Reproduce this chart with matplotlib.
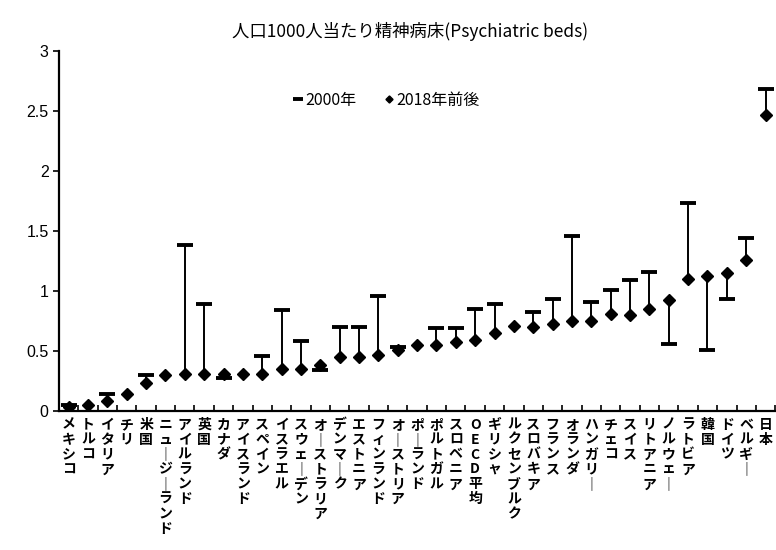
import matplotlib
matplotlib.use('Agg')
import matplotlib.pyplot as plt
import numpy as np

plt.rcParams['font.family'] = ['Noto Sans CJK JP', 'DejaVu Sans']

# 国名（左から右）
paises = ['メキシコ', 'トルコ', 'イタリア', 'チリ', '米国', 'ニュージーランド',
          'アイルランド', '英国', 'カナダ', 'アイスランド', 'スペイン', 'イスラエル',
          'スウェーデン', 'オーストラリア', 'デンマーク', 'エストニア', 'フィンランド',
          'オーストリア', 'ポーランド', 'ポルトガル', 'スロベニア', 'OECD平均',
          'ギリシャ', 'ルクセンブルク', 'スロバキア', 'フランス', 'オランダ',
          'ハンガリー', 'チェコ', 'スイス', 'リトアニア', 'ノルウェー', 'ラトビア',
          '韓国', 'ドイツ', 'ベルギー', '日本']

# 2000年の値（データなしは nan）
camas_2000 = [0.05, np.nan, 0.14, np.nan, 0.30, np.nan,
              1.38, 0.89, 0.27, np.nan, 0.46, 0.84,
              0.58, 0.34, 0.70, 0.70, 0.96,
              0.53, np.nan, 0.69, 0.69, 0.85,
              0.89, np.nan, 0.82, 0.93, 1.46,
              0.91, 1.01, 1.09, 1.16, 0.56, 1.73,
              0.51, 0.93, 1.44, 2.68]

# 2018年前後の値
camas_2018 = [0.03, 0.05, 0.08, 0.14, 0.23, 0.30,
              0.31, 0.31, 0.31, 0.31, 0.31, 0.345,
              0.35, 0.38, 0.45, 0.445, 0.465,
              0.51, 0.55, 0.55, 0.575, 0.59,
              0.645, 0.71, 0.70, 0.72, 0.75,
              0.75, 0.805, 0.80, 0.85, 0.92, 1.095,
              1.12, 1.145, 1.26, 2.46]

fig = plt.figure(figsize=(7.76, 5.5), dpi=100)
ax = fig.add_axes([0.076, 0.253, 0.923, 0.655])

x = np.arange(len(paises))

# Líneas verticales entre 2000 y 2018
for xi, a, b in zip(x, camas_2000, camas_2018):
    if not np.isnan(a):
        ax.plot([xi, xi], [a, b], color='black', lw=1.4, zorder=2)

# Marcas
ax.plot(x, camas_2000, linestyle='none', marker='_', ms=11, mew=2.8,
        color='black', label='2000年', zorder=3)
ax.plot(x, camas_2018, linestyle='none', marker='D', ms=6,
        color='black', label='2018年前後', zorder=4)

ax.set_ylim(0, 3)
ax.set_xlim(-0.2, 36.4)
ax.set_yticks([0, 0.5, 1, 1.5, 2, 2.5, 3])
ax.set_yticklabels(['0', '0.5', '1', '1.5', '2', '2.5', '3'],
                   family=['Liberation Sans', 'DejaVu Sans'], fontsize=11.5)

# Etiquetas verticales
etiquetas = ['\n'.join(p.replace('ー', '｜')) for p in paises]
ax.set_xticks(x)
ax.set_xticklabels(etiquetas, fontsize=10, linespacing=1.08, va='top',
                   fontweight='bold')
ax.tick_params(axis='x', length=0, pad=5)
ax.set_xticks(np.arange(len(paises) + 1) - 0.5, minor=True)
ax.tick_params(axis='x', which='minor', direction='in', length=4, width=1.2)
ax.tick_params(axis='y', direction='out', length=4, width=1.2)

for lado in ['top', 'right']:
    ax.spines[lado].set_visible(False)
ax.spines['left'].set_linewidth(1.6)
ax.spines['bottom'].set_linewidth(1.6)

ax.legend(loc='upper center', bbox_to_anchor=(0.458, 0.925), ncol=2, frameon=False,
          prop={'size': 11.5}, handlelength=0.5, handletextpad=0.2,
          columnspacing=1.8, markerscale=0.6)

fig.text(0.528, 0.942, '人口1000人当たり精神病床(Psychiatric beds)', ha='center',
         va='center', fontsize=12.5)

fig.savefig('out.png', dpi=100)
